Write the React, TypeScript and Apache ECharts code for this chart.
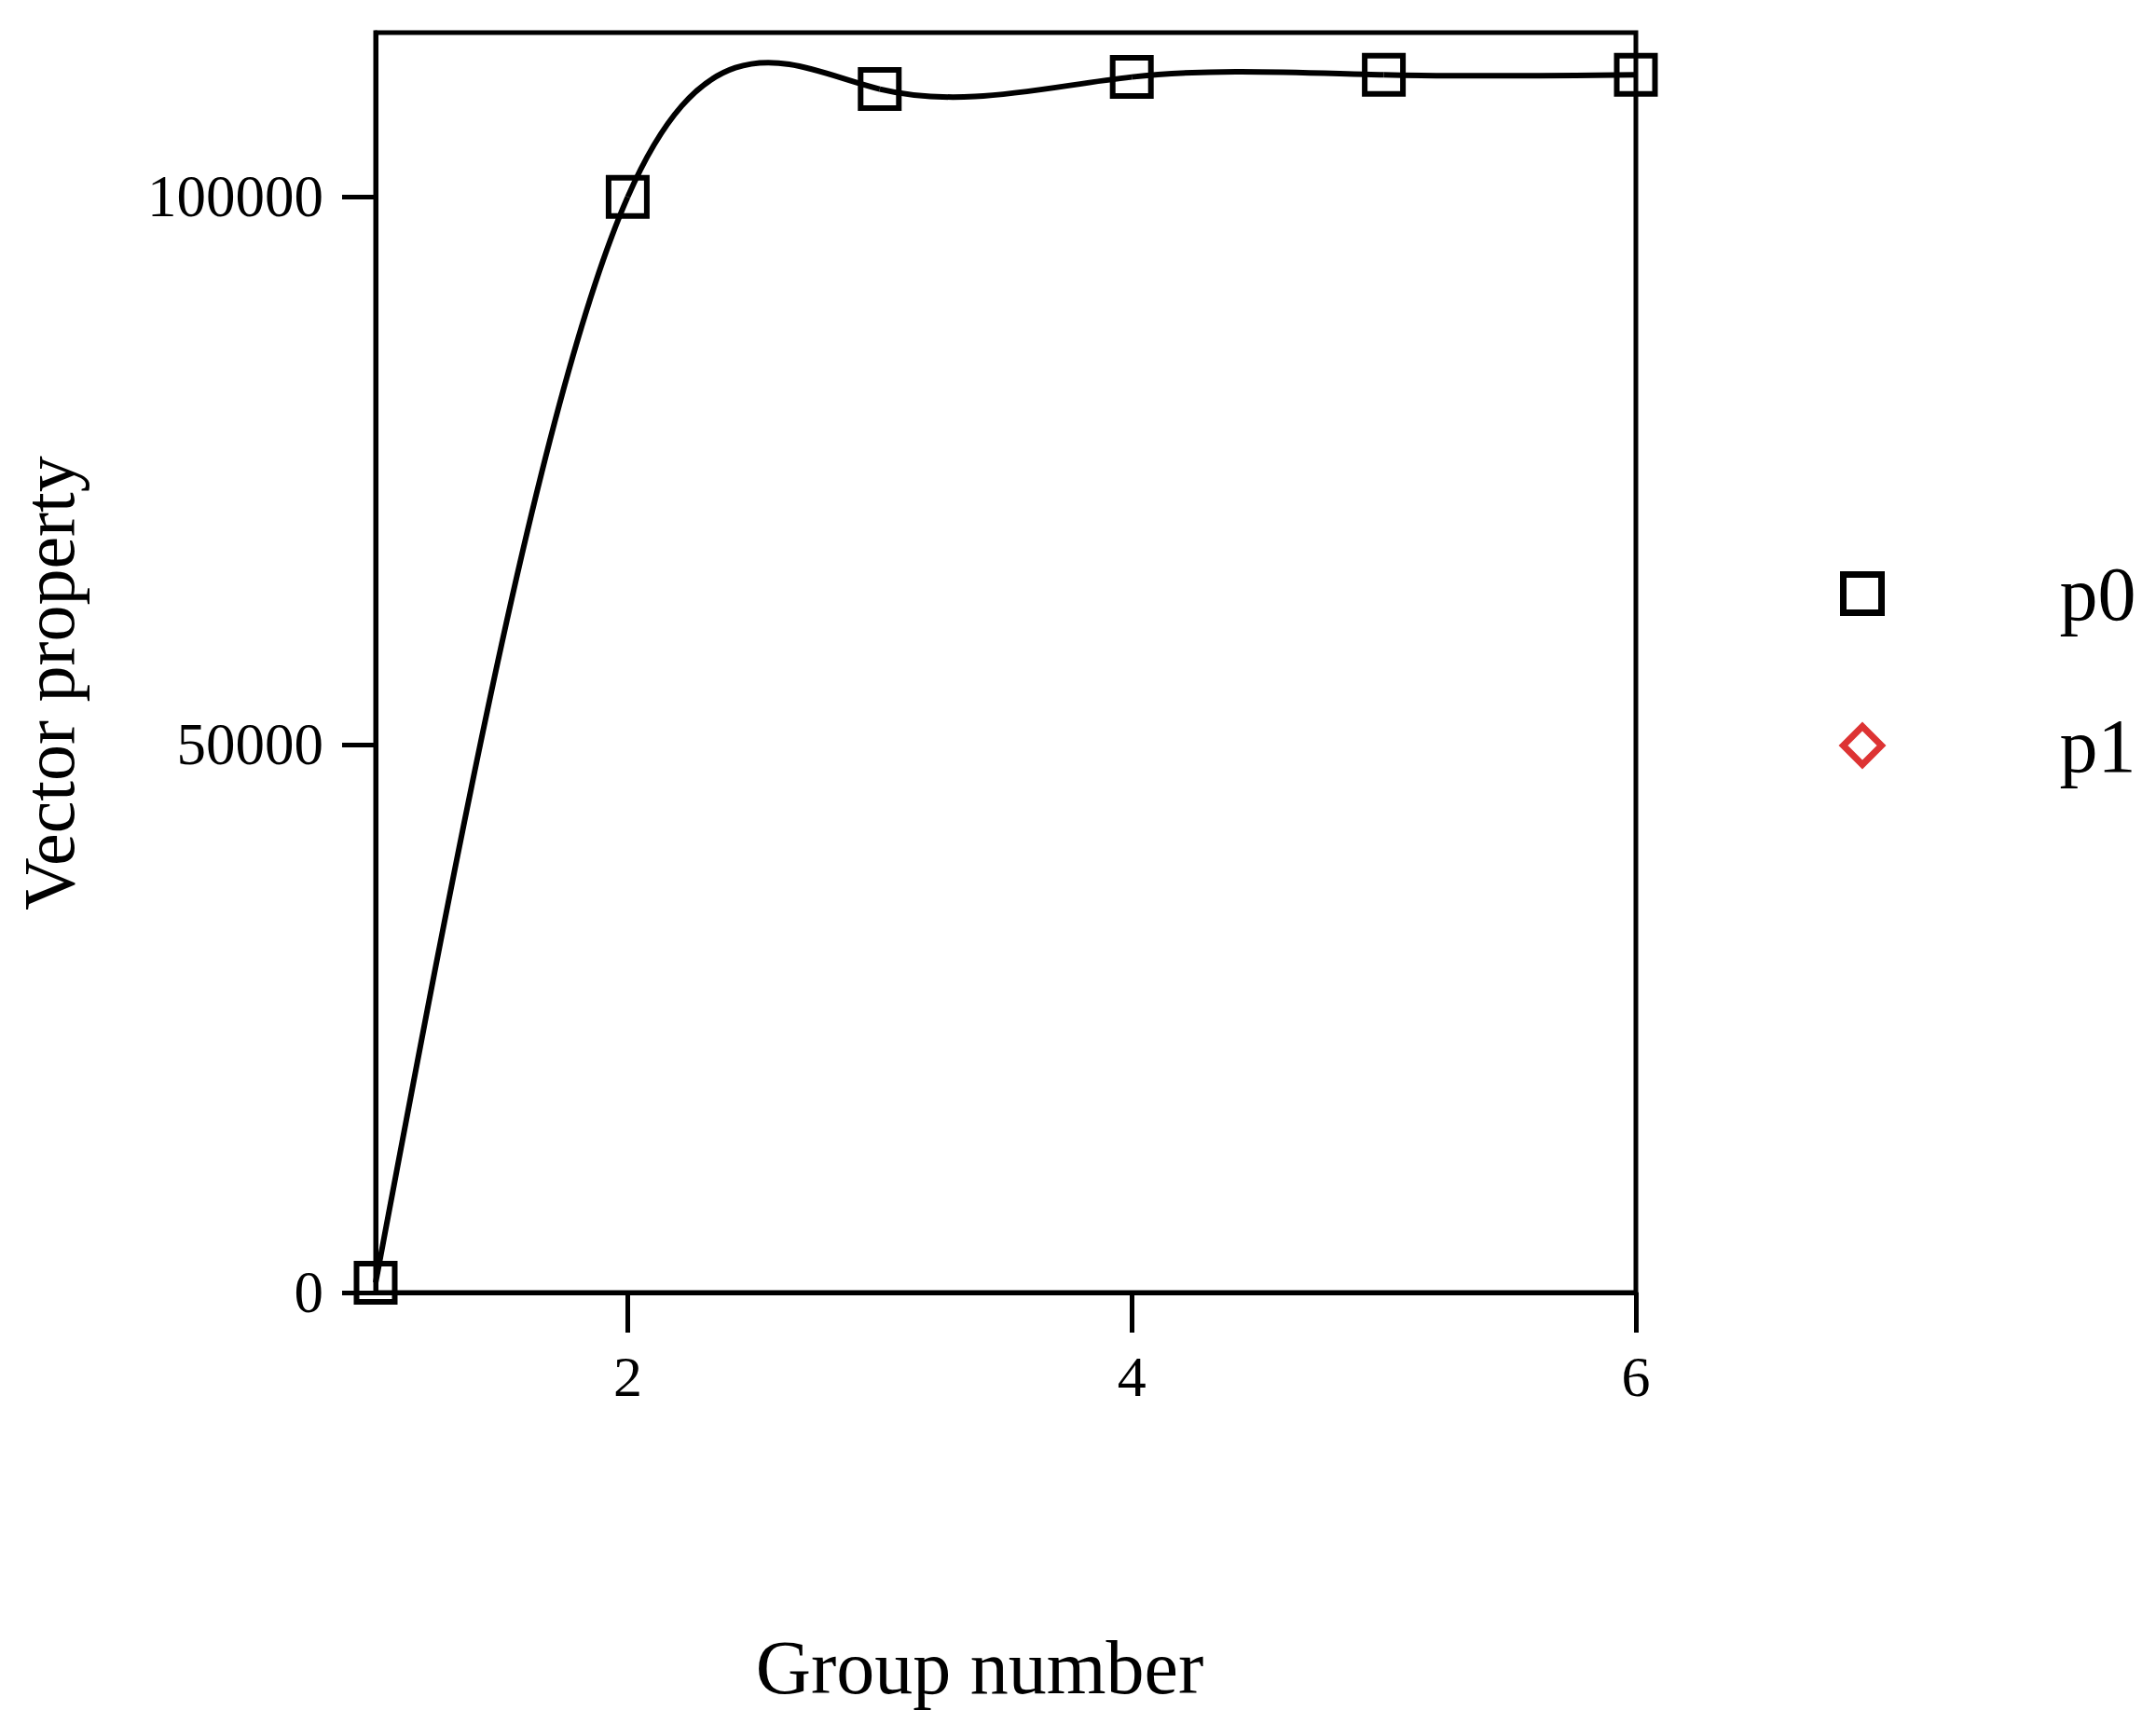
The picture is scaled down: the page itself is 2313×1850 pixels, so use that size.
import React, { useEffect, useRef } from "react";
import * as echarts from "echarts";

const xValues = [1, 2, 3, 4, 5, 6];
const p0Values = [900, 100000, 109850, 110950, 111150, 111150];
const p1Values: number[][] = [];
const xTickValues = [2, 4, 6];
const yTickValues = [0, 50000, 100000];
const seriesNames = ["p0", "p1"];
const xTitle = "Group number";
const yTitle = "Vector property";

const FONT = "'Liberation Serif', 'Times New Roman', serif";

function naturalSplineSlopes(xs: number[], ys: number[]): number[] {
  const n = xs.length;
  const h: number[] = [];
  for (let i = 0; i < n - 1; i++) h.push(xs[i + 1] - xs[i]);
  const M = new Array(n).fill(0);
  const m = n - 2;
  if (m > 0) {
    const a: number[] = [], b: number[] = [], c: number[] = [], d: number[] = [];
    for (let i = 1; i <= n - 2; i++) {
      a.push(h[i - 1]);
      b.push(2 * (h[i - 1] + h[i]));
      c.push(h[i]);
      d.push(6 * ((ys[i + 1] - ys[i]) / h[i] - (ys[i] - ys[i - 1]) / h[i - 1]));
    }
    const cp: number[] = new Array(m).fill(0);
    const dp: number[] = new Array(m).fill(0);
    cp[0] = c[0] / b[0];
    dp[0] = d[0] / b[0];
    for (let i = 1; i < m; i++) {
      const den = b[i] - a[i] * cp[i - 1];
      cp[i] = c[i] / den;
      dp[i] = (d[i] - a[i] * dp[i - 1]) / den;
    }
    const sol: number[] = new Array(m).fill(0);
    sol[m - 1] = dp[m - 1];
    for (let i = m - 2; i >= 0; i--) sol[i] = dp[i] - cp[i] * sol[i + 1];
    for (let i = 0; i < m; i++) M[i + 1] = sol[i];
  }
  const slopes: number[] = [];
  for (let i = 0; i < n - 1; i++) {
    slopes.push((ys[i + 1] - ys[i]) / h[i] - (h[i] * (2 * M[i] + M[i + 1])) / 6);
  }
  slopes.push((ys[n - 1] - ys[n - 2]) / h[n - 2] + (h[n - 2] * (M[n - 2] + 2 * M[n - 1])) / 6);
  return slopes;
}

export default function App() {
  const ref = useRef<HTMLDivElement>(null);

  useEffect(() => {
    document.body.style.margin = "0";
    document.body.style.overflow = "hidden";
    if (!ref.current) return;
    const chart = echarts.init(ref.current, null, { renderer: "svg" });
    const slopes = naturalSplineSlopes(xValues, p0Values);
    const points = xValues.map((x, i) => [x, p0Values[i]]);

    chart.setOption({
      animation: false,
      backgroundColor: "#ffffff",
      grid: {
        left: 403,
        right: 2313 - 1755,
        top: 35,
        bottom: 1850 - 1387,
        containLabel: false,
        outerBoundsMode: "none",
        show: true,
        borderColor: "#000",
        borderWidth: 5,
        backgroundColor: "transparent",
      },
      legend: {
        orient: "vertical",
        left: 1974,
        top: 596,
        padding: 0,
        itemWidth: 41,
        itemHeight: 41,
        itemGap: 81,
        textStyle: {
          fontFamily: FONT,
          fontSize: 82,
          color: "#000",
          lineHeight: 82,
          padding: [0, 0, 0, 186],
        },
        data: [
          {
            name: seriesNames[0],
            icon: "rect",
            itemStyle: { color: "rgba(0,0,0,0)", borderColor: "#000", borderWidth: 7 },
          },
          {
            name: seriesNames[1],
            icon: "diamond",
            itemStyle: { color: "rgba(0,0,0,0)", borderColor: "#d40000", borderWidth: 7 },
          },
        ],
      },
      xAxis: {
        type: "value",
        min: 1,
        max: 6,
        name: xTitle,
        nameLocation: "middle",
        nameGap: 361,
        nameTextStyle: {
          fontFamily: FONT,
          fontSize: 82,
          color: "#000",
          padding: [0, 56, 0, 0],
        },
        axisLine: { show: true, lineStyle: { color: "#000", width: 5 } },
        axisTick: {
          show: true,
          inside: false,
          length: 43,
          lineStyle: { color: "#000", width: 5 },
          customValues: xTickValues,
        },
        axisLabel: {
          fontFamily: FONT,
          fontSize: 62,
          color: "#000",
          margin: 59,
          customValues: xTickValues,
          formatter: (v: number) => String(v),
        },
        splitLine: { show: false },
      },
      yAxis: {
        type: "value",
        min: 0,
        max: 115000,
        name: yTitle,
        nameLocation: "middle",
        nameGap: 312,
        nameTextStyle: {
          fontFamily: FONT,
          fontSize: 78,
          lineHeight: 78,
          color: "#000",
          padding: [0, 44, 0, 0],
        },
        axisLine: { show: true, lineStyle: { color: "#000", width: 5 } },
        axisTick: {
          show: true,
          inside: false,
          length: 36,
          lineStyle: { color: "#000", width: 5 },
          customValues: yTickValues,
        },
        axisLabel: {
          fontFamily: FONT,
          fontSize: 63,
          color: "#000",
          margin: 56,
          customValues: yTickValues,
          formatter: (v: number) => String(v),
        },
        splitLine: { show: false },
      },
      series: [
        {
          name: "p0 curve",
          type: "custom",
          data: points,
          encode: { x: 0, y: 1 },
          z: 2,
          renderItem: (params: any, api: any) => {
            const i = params.dataIndex;
            if (i >= xValues.length - 1) return { type: "group", children: [] };
            const xa = xValues[i];
            const xb = xValues[i + 1];
            const hh = xb - xa;
            const ya = p0Values[i];
            const yb = p0Values[i + 1];
            const s = api.coord([xa, ya]);
            const e = api.coord([xb, yb]);
            const c1 = api.coord([xa + hh / 3, ya + (slopes[i] * hh) / 3]);
            const c2 = api.coord([xb - hh / 3, yb - (slopes[i + 1] * hh) / 3]);
            return {
              type: "bezierCurve",
              shape: {
                x1: s[0],
                y1: s[1],
                x2: e[0],
                y2: e[1],
                cpx1: c1[0],
                cpy1: c1[1],
                cpx2: c2[0],
                cpy2: c2[1],
              },
              style: { stroke: "#000", lineWidth: 6, fill: null },
            };
          },
        },
        {
          name: seriesNames[0],
          type: "scatter",
          data: points,
          symbol: "rect",
          symbolSize: 41,
          z: 3,
          itemStyle: { color: "rgba(0,0,0,0)", borderColor: "#000", borderWidth: 6, opacity: 1 },
        },
        {
          name: seriesNames[1],
          type: "scatter",
          data: p1Values,
          symbol: "diamond",
          symbolSize: 40,
          itemStyle: { color: "rgba(0,0,0,0)", borderColor: "#d40000", borderWidth: 7 },
        },
      ],
    });
    return () => chart.dispose();
  }, []);

  return <div ref={ref} style={{ width: 2313, height: 1850 }} />;
}
